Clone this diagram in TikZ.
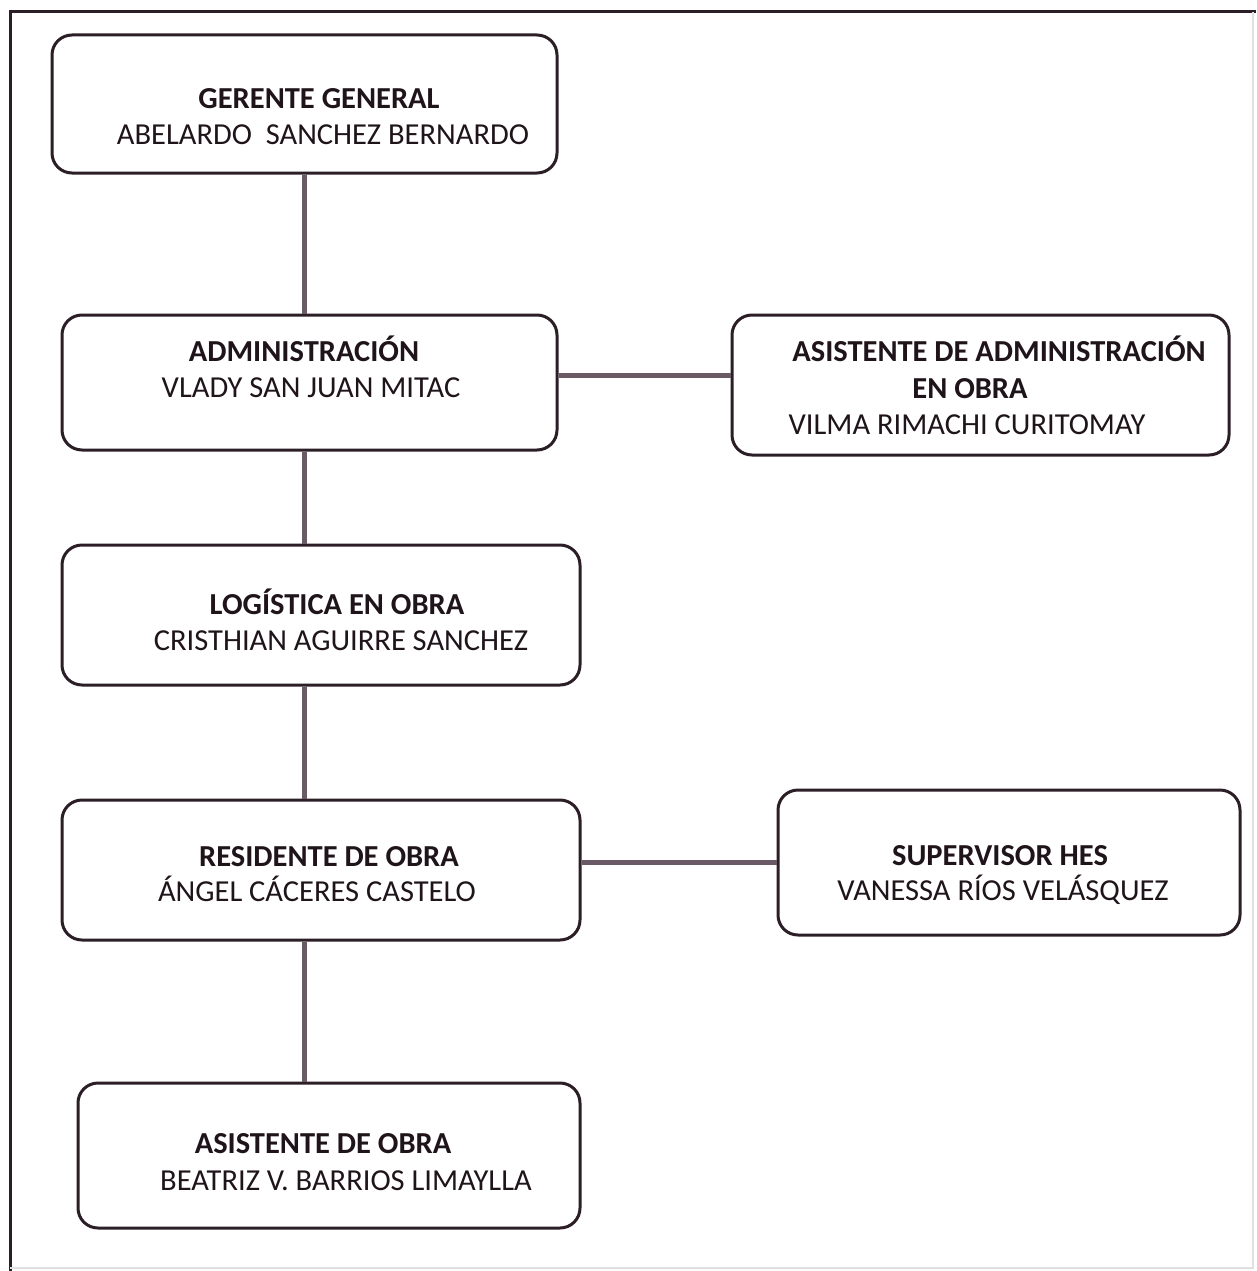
\documentclass[tikz,border=0pt]{standalone}
\usepackage{fontspec}
\setmainfont{Carlito}
\begin{document}
\begin{tikzpicture}[x=1pt,y=-1pt,
  box/.style={draw=boxcol,line width=3pt,rounded corners=20pt,inner sep=0pt},
  ttl/.style={anchor=base,font=\fontsize{30.5}{36}\selectfont\bfseries,text=txtcol,inner sep=0pt},
  nm/.style={anchor=base,font=\fontsize{30.5}{36}\selectfont,text=txtcol,inner sep=0pt},
  conn/.style={draw=conncol,line width=5pt}]
\definecolor{boxcol}{HTML}{2B1E26}
\definecolor{txtcol}{HTML}{1E141A}
\definecolor{conncol}{HTML}{6A5A66}
\useasboundingbox (0,0) rectangle (1256,1271);
% outer frame
\draw[line width=3pt,draw=boxcol] (10,1271) -- (10,12) -- (1256,12);
\draw[line width=1.5pt,draw=black!12] (1253,12) -- (1253,1268) -- (10,1268);
% boxes
\node[box,minimum width=505pt,minimum height=138pt] (b1) at (304.5,104) {};
\node[box,minimum width=495pt,minimum height=135pt] (b2) at (309.5,382.5) {};
\node[box,minimum width=497pt,minimum height=140pt] (b3) at (980.5,385) {};
\node[box,minimum width=518pt,minimum height=140pt] (b4) at (321,615) {};
\node[box,minimum width=518pt,minimum height=140pt] (b5) at (321,870) {};
\node[box,minimum width=462pt,minimum height=145pt] (b6) at (1009,862.5) {};
\node[box,minimum width=502pt,minimum height=145pt] (b7) at (329,1155.5) {};
% texts
\node[ttl] (t1) at (319,109) {GERENTE GENERAL};
\node[nm] (n1) at (323,144) {ABELARDO\ \ SANCHEZ BERNARDO};
\node[ttl] (t2) at (304,361) {ADMINISTRACIÓN};
\node[nm] (n2) at (311,397) {VLADY SAN JUAN MITAC};
\node[ttl] (t3) at (999,361) {ASISTENTE DE ADMINISTRACIÓN};
\node[ttl] (t3b) at (970,398) {EN OBRA};
\node[nm] (n3) at (967,434) {VILMA RIMACHI CURITOMAY};
\node[ttl] (t4) at (337,614) {LOGÍSTICA EN OBRA};
\node[nm] (n4) at (341,650) {CRISTHIAN AGUIRRE SANCHEZ};
\node[ttl] (t5) at (329,866) {RESIDENTE DE OBRA};
\node[nm] (n5) at (317,901) {ÁNGEL CÁCERES CASTELO};
\node[ttl] (t6) at (1000,865) {SUPERVISOR HES};
\node[nm] (n6) at (1003,900) {VANESSA RÍOS VELÁSQUEZ};
\node[ttl] (t7) at (323,1153) {ASISTENTE DE OBRA};
\node[nm] (n7) at (346,1190) {BEATRIZ V. BARRIOS LIMAYLLA};
% connectors
\draw[conn] (b1.south) -- (b1.south |- b2.north);
\draw[conn] (b1.south |- b2.south) -- (b1.south |- b4.north);
\draw[conn] (b1.south |- b4.south) -- (b1.south |- b5.north);
\draw[conn] (b1.south |- b5.south) -- (b1.south |- b7.north);
\draw[conn] ([yshift=7.5pt]b2.east) -- ([yshift=7.5pt]b2.east -| b3.west);
\draw[conn] ([yshift=8pt]b5.east) -- ([yshift=8pt]b5.east -| b6.west);
\end{tikzpicture}
\end{document}
